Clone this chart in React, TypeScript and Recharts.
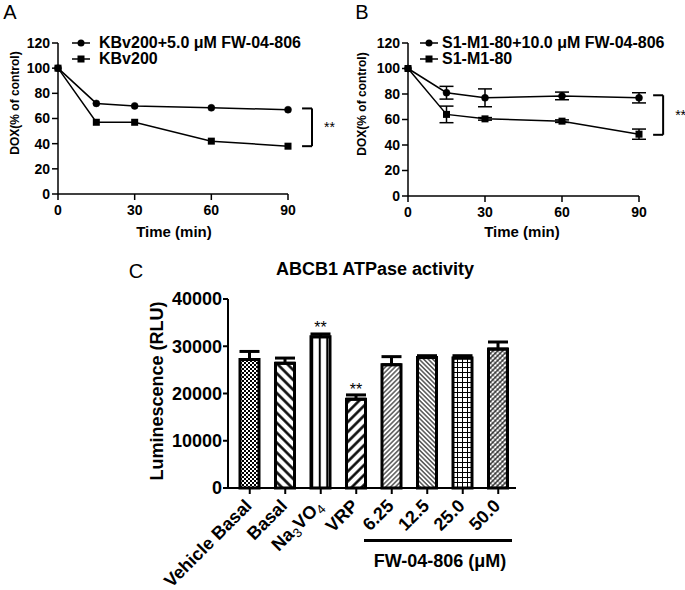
import { Bar, BarChart, Cell, ErrorBar, LabelList, Legend, Line, LineChart, ReferenceLine, XAxis, YAxis } from "recharts";

// panel A / B: DOX accumulation over time (% of control)
const timeMin = [0, 15, 30, 60, 90];
const kbvWithFw = [100, 72, 70, 68.5, 67];
const kbvAlone = [100, 57, 57, 42, 38];

const s1WithFw = [100, 81, 77, 78.5, 77];
const s1WithFwErr = [0, 5, 7, 3, 4];
const s1Alone = [100, 64, 60.5, 58.7, 48.5];
const s1AloneErr = [0, 6.5, 1, 1, 4];

const timeTicks = [0, 30, 60, 90];
const doxTicks = [0, 20, 40, 60, 80, 100, 120];

// panel C: ATPase activity
const atpLabels = ["Vehicle Basal", "Basal", "Na3VO4", "VRP", "6.25", "12.5", "25.0", "50.0"];
const atpValues = [27200, 26400, 32000, 18800, 26100, 27600, 27500, 29400];
const atpErrors = [1700, 1100, 600, 900, 1700, 400, 500, 1500];
const atpStars = ["", "", "**", "**", "", "", "", ""];
const rluTicks = [0, 10000, 20000, 30000, 40000];

const dataA = timeMin.map((t, i) => ({ t, fw: kbvWithFw[i], ctl: kbvAlone[i] }));
const dataB = timeMin.map((t, i) => ({ t, fw: s1WithFw[i], fwErr: s1WithFwErr[i], ctl: s1Alone[i], ctlErr: s1AloneErr[i] }));
const dataC = atpLabels.map((name, i) => ({ name, value: atpValues[i], err: [0, atpErrors[i]], star: atpStars[i] }));

const FONT = '"Liberation Sans", Arial, Helvetica, sans-serif';

const SquareDot = (props: any) => {
  const { cx, cy, index } = props;
  if (cx == null || cy == null) return <g key={index} />;
  return <rect key={index} x={cx - 3.5} y={cy - 3.5} width={7} height={7} fill="#000" />;
};

function LegendBox({ names, gap }: { names: string[]; gap: number }) {
  return (
    <div style={{ fontFamily: FONT, fontSize: 16, fontWeight: 700, color: "#000" }}>
      {names.map((n, i) => (
        <div key={n} style={{ display: "flex", alignItems: "center", height: 16, whiteSpace: "nowrap" }}>
          <svg width={18} height={10} style={{ flex: "none" }}>
            <line x1={0} x2={18} y1={5} y2={5} stroke="#000" strokeWidth={1.5} />
            {i === 0 ? <circle cx={9} cy={5} r={3.5} fill="#000" /> : <rect x={5.5} y={1.5} width={7} height={7} fill="#000" />}
          </svg>
          <span style={{ marginLeft: gap }}>{n}</span>
        </div>
      ))}
    </div>
  );
}

type TimeProps = {
  data: any[];
  names: string[];
  width: number;
  yWidth: number;
  marginRight: number;
  marginBottom: number;
  legendLeft: number;
  legendGap: number;
  bracket: { top: number; bottom: number };
  withErrors?: boolean;
};

function TimeCourse({ data, names, width, yWidth, marginRight, marginBottom, legendLeft, legendGap, bracket, withErrors }: TimeProps) {
  const tick = { fill: "#000", fontSize: 14, fontWeight: 700 };
  const bx0 = 95.5;
  const bx1 = 99.4;
  return (
    <LineChart width={width} height={250} data={data} margin={{ top: 43, right: marginRight, bottom: marginBottom, left: 0 }}>
      <XAxis dataKey="t" type="number" domain={[0, 90]} ticks={timeTicks} interval={0} height={30} tickSize={6} tickMargin={5} stroke="#000" strokeWidth={1.5} tick={tick} />
      <YAxis type="number" domain={[0, 120]} ticks={doxTicks} interval={0} width={yWidth} tickSize={6} tickMargin={2} stroke="#000" strokeWidth={1.5} tick={tick} />
      <Line dataKey="fw" name={names[0]} stroke="#000" strokeWidth={1.5} dot={{ r: 3.5, fill: "#000", stroke: "#000", strokeWidth: 0.5 }} isAnimationActive={false}>
        {withErrors && <ErrorBar dataKey="fwErr" width={7} stroke="#000" strokeWidth={1.5} direction="y" />}
      </Line>
      <Line dataKey="ctl" name={names[1]} stroke="#000" strokeWidth={1.5} dot={SquareDot} isAnimationActive={false}>
        {withErrors && <ErrorBar dataKey="ctlErr" width={7} stroke="#000" strokeWidth={1.5} direction="y" />}
      </Line>
      <ReferenceLine ifOverflow="visible" stroke="#000" strokeWidth={2} segment={[{ x: bx0, y: bracket.top }, { x: bx1, y: bracket.top }]} />
      <ReferenceLine ifOverflow="visible" stroke="#000" strokeWidth={2} segment={[{ x: bx0, y: bracket.bottom }, { x: bx1, y: bracket.bottom }]} />
      <ReferenceLine
        ifOverflow="visible"
        stroke="#000"
        strokeWidth={2}
        segment={[{ x: bx1, y: bracket.top }, { x: bx1, y: bracket.bottom }]}
        label={{ value: "**", position: "right", offset: 12, fill: "#000", fontSize: 14 }}
      />
      <Legend
        layout="vertical"
        align="center"
        verticalAlign="middle"
        wrapperStyle={{ left: legendLeft, top: 35, width: "auto" }}
        content={() => <LegendBox names={names} gap={legendGap} />}
      />
    </LineChart>
  );
}

const AtpTick = (props: any) => {
  const { x, y, payload } = props;
  const ax = x + 3;
  const ay = y + 11;
  const label = payload.value as string;
  return (
    <text x={ax} y={ay} textAnchor="end" transform={`rotate(-45, ${ax}, ${ay})`} fill="#000" fontSize={18} fontWeight={700}>
      {label === "Na3VO4" ? (
        <>
          <tspan>Na</tspan>
          <tspan fontSize={13} fontWeight={400} dy={4}>3</tspan>
          <tspan dy={-4}>VO</tspan>
          <tspan fontSize={13} fontWeight={400} dy={4}>4</tspan>
        </>
      ) : (
        label
      )}
    </text>
  );
};

const StarLabel = (props: any) => {
  const { x, y, width, value } = props;
  if (!value) return null;
  return (
    <text x={x + width / 2} y={y - 4} textAnchor="middle" fill="#000" fontSize={16}>
      {value}
    </text>
  );
};

function Patterns() {
  return (
    <defs>
      <pattern id="atp0" width={4} height={4} patternUnits="userSpaceOnUse">
        <rect width={4} height={4} fill="#fff" />
        <rect width={2} height={2} fill="#000" />
        <rect x={2} y={2} width={2} height={2} fill="#000" />
      </pattern>
      <pattern id="atp1" width={7} height={7} patternUnits="userSpaceOnUse" patternTransform="rotate(-45)">
        <rect width={7} height={7} fill="#fff" />
        <line x1={3.5} x2={3.5} y1={0} y2={7} stroke="#000" strokeWidth={2.5} />
      </pattern>
      <pattern id="atp2" width={7.5} height={7.5} patternUnits="userSpaceOnUse" x={1}>
        <rect width={7.5} height={7.5} fill="#fff" />
        <line x1={3.75} x2={3.75} y1={0} y2={7.5} stroke="#000" strokeWidth={2} />
      </pattern>
      <pattern id="atp3" width={7} height={7} patternUnits="userSpaceOnUse" patternTransform="rotate(45)">
        <rect width={7} height={7} fill="#fff" />
        <line x1={3.5} x2={3.5} y1={0} y2={7} stroke="#000" strokeWidth={2.5} />
      </pattern>
      <pattern id="atp4" width={3.4} height={3.4} patternUnits="userSpaceOnUse" patternTransform="rotate(45)">
        <rect width={3.4} height={3.4} fill="#fff" />
        <line x1={1.7} x2={1.7} y1={0} y2={3.4} stroke="#000" strokeWidth={1} />
      </pattern>
      <pattern id="atp5" width={3.2} height={3.2} patternUnits="userSpaceOnUse" patternTransform="rotate(-45)">
        <rect width={3.2} height={3.2} fill="#fff" />
        <line x1={1.6} x2={1.6} y1={0} y2={3.2} stroke="#000" strokeWidth={1} />
      </pattern>
      <pattern id="atp6" width={5} height={5} patternUnits="userSpaceOnUse">
        <rect width={5} height={5} fill="#fff" />
        <line x1={2.5} x2={2.5} y1={0} y2={5} stroke="#000" strokeWidth={1} />
        <line x1={0} x2={5} y1={2.5} y2={2.5} stroke="#000" strokeWidth={1} />
      </pattern>
      <pattern id="atp7" width={3.4} height={3.4} patternUnits="userSpaceOnUse" patternTransform="rotate(45)">
        <rect width={3.4} height={3.4} fill="#fff" />
        <line x1={1.7} x2={1.7} y1={0} y2={3.4} stroke="#000" strokeWidth={1.1} />
        <line x1={0} x2={3.4} y1={1.7} y2={1.7} stroke="#000" strokeWidth={0.5} />
      </pattern>
    </defs>
  );
}

function Txt({ x, y, size, bold = true, rotate, children }: { x: number; y: number; size: number; bold?: boolean; rotate?: number; children: any }) {
  return (
    <div
      style={{
        position: "absolute",
        left: x,
        top: y,
        transform: `translate(-50%, -50%)${rotate ? ` rotate(${rotate}deg)` : ""}`,
        fontSize: size,
        fontWeight: bold ? 700 : 400,
        lineHeight: 1,
        whiteSpace: "nowrap",
        color: "#000",
      }}
    >
      {children}
    </div>
  );
}

export default function App() {
  return (
    <div style={{ position: "absolute", left: 0, top: 0, width: 685, height: 590, background: "#fff", overflow: "hidden", fontFamily: FONT }}>
      <div style={{ position: "absolute", left: 0, top: 0 }}>
        <TimeCourse
          data={dataA}
          names={["KBv200+5.0 μM FW-04-806", "KBv200"]}
          width={340}
          yWidth={58}
          marginRight={52}
          marginBottom={26}
          legendLeft={72}
          legendGap={9}
          bracket={{ top: 68, bottom: 38 }}
        />
      </div>
      <div style={{ position: "absolute", left: 340, top: 0 }}>
        <TimeCourse
          data={dataB}
          names={["S1-M1-80+10.0 μM FW-04-806", "S1-M1-80"]}
          width={345}
          yWidth={68}
          marginRight={46}
          marginBottom={24}
          legendLeft={80}
          legendGap={4}
          bracket={{ top: 79, bottom: 48 }}
          withErrors
        />
      </div>
      <div style={{ position: "absolute", left: 0, top: 250 }}>
        <BarChart width={685} height={340} data={dataC} margin={{ top: 49, right: 169, bottom: 4, left: 158 }} barSize={19}>
          <Patterns />
          <XAxis dataKey="name" interval={0} height={98} tickSize={6} stroke="#000" strokeWidth={2} padding={{ left: 4, right: 0 }} tick={<AtpTick />} />
          <YAxis domain={[0, 40000]} ticks={rluTicks} interval={0} width={70} tickSize={5} tickMargin={1} stroke="#000" strokeWidth={2} tick={{ fill: "#000", fontSize: 18, fontWeight: 700 }} />
          <Bar dataKey="value" stroke="#000" strokeWidth={3} isAnimationActive={false}>
            {dataC.map((d, i) => (
              <Cell key={d.name} fill={`url(#atp${i})`} />
            ))}
            <ErrorBar dataKey="err" width={10} stroke="#000" strokeWidth={3} direction="y" />
            <LabelList dataKey="star" content={StarLabel} />
          </Bar>
        </BarChart>
      </div>

      <Txt x={10} y={12} size={20} bold={false}>A</Txt>
      <Txt x={362} y={12} size={20} bold={false}>B</Txt>
      <Txt x={136} y={271} size={20} bold={false}>C</Txt>

      <Txt x={15} y={103} size={12} rotate={-90}>DOX(% of control)</Txt>
      <Txt x={362} y={104} size={12} rotate={-90}>DOX(% of control)</Txt>
      <Txt x={174} y={231} size={15}>Time (min)</Txt>
      <Txt x={522} y={231} size={15}>Time (min)</Txt>

      <Txt x={375} y={269} size={18}>ABCB1 ATPase activity</Txt>
      <Txt x={157} y={391} size={18} rotate={-90}>Luminescence (RLU)</Txt>
      <div style={{ position: "absolute", left: 364, top: 538.5, width: 148, height: 3, background: "#000" }} />
      <Txt x={440} y={561} size={18}>FW-04-806 (μM)</Txt>
    </div>
  );
}
